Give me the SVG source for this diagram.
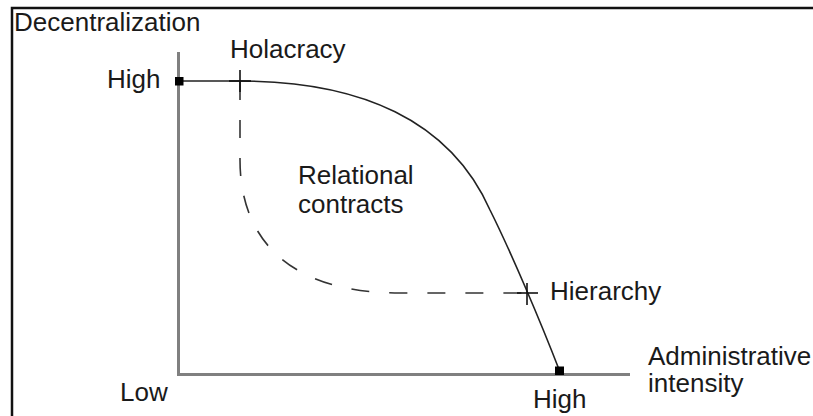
<svg xmlns="http://www.w3.org/2000/svg" width="813" height="416" viewBox="0 0 813 416">
<style>
text{font-family:"Liberation Sans",Arial,sans-serif;font-size:26px;fill:#1a1a1a}
.axis{stroke:#808080;stroke-width:3;fill:none}
.curve{stroke:#222;stroke-width:1.6;fill:none}
.dash{stroke:#333;stroke-width:1.6;fill:none;stroke-dasharray:18 20}
.tick{stroke:#111;stroke-width:1.6}
.mark{fill:#000}
</style>
<rect x="0" y="0" width="813" height="416" fill="#fff"/>
<path d="M12,416 V8 H813" stroke="#111" stroke-width="2.5" fill="none"/>
<g id="axes">
<path class="axis" d="M178.5,52 V374.5 H630"/>
</g>
<g id="connectors">
<path class="curve" d="M179,81 L240,81 C360,81 450,120 490,210 C510,250 540,320 560,372"/>
<path class="dash" d="M240,82 L240,160 C240,240 290,293 400,293 L527,293"/>
</g>
<g id="holacracy">
<line class="tick" x1="229" y1="81" x2="251" y2="81"/>
<line class="tick" x1="240" y1="70" x2="240" y2="92"/>
<text x="230" y="58">Holacracy</text>
</g>
<g id="hierarchy">
<line class="tick" x1="517" y1="293" x2="538" y2="293"/>
<line class="tick" x1="527" y1="283" x2="527" y2="305"/>
<text x="550" y="300">Hierarchy</text>
</g>
<g id="relational">
<text x="298" y="184">Relational</text>
<text x="298" y="213">contracts</text>
</g>
<g id="high-decentral">
<rect class="mark" x="175" y="77" width="8.5" height="8.5"/>
<text x="107" y="88">High</text>
</g>
<g id="high-admin">
<rect class="mark" x="555" y="366.5" width="9" height="8.5"/>
<text x="533" y="408">High</text>
</g>
<g id="labels">
<text x="14" y="31">Decentralization</text>
<text x="120" y="401">Low</text>
<text x="648" y="365">Administrative</text>
<text x="648" y="392">intensity</text>
</g>
</svg>
